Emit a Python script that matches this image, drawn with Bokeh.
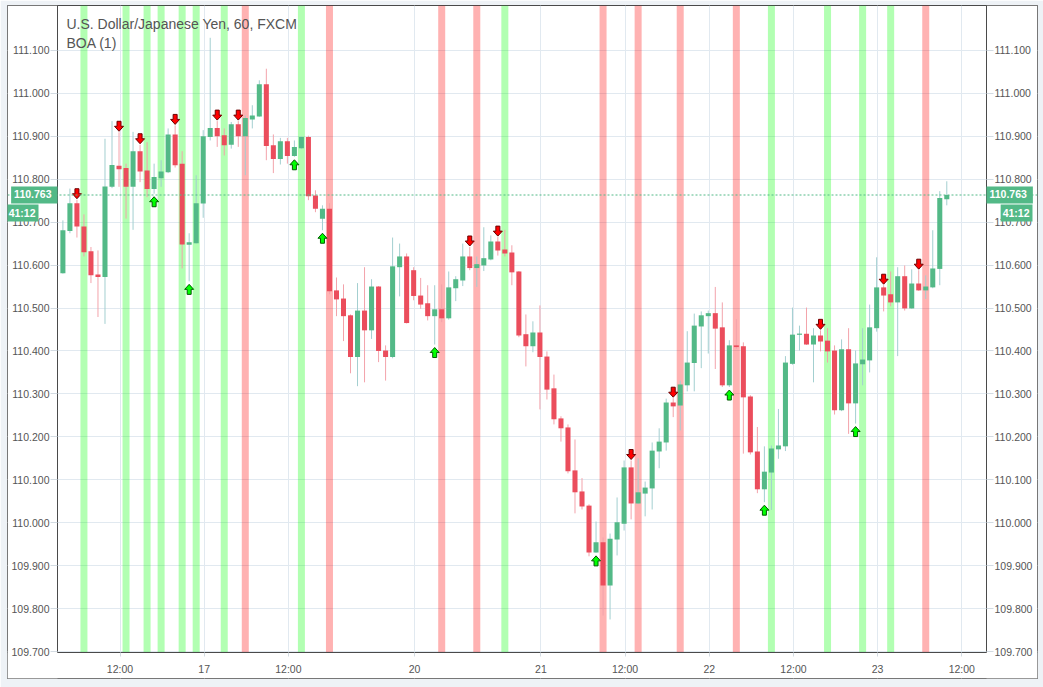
from bokeh.plotting import figure
from bokeh.models import (Range1d, LinearAxis, FixedTicker, PrintfTickFormatter,
                          Span, Label, BoxAnnotation, ColumnDataSource)
from bokeh.embed import file_html
from bokeh.resources import INLINE

# ---------------- data ----------------
title_text = "U.S. Dollar/Japanese Yen, 60, FXCM"
indicator_text = "BOA (1)"
countdown = "41:12"

opens = [110.581, 110.679, 110.744, 110.690, 110.632, 110.578, 110.572, 110.782, 110.831, 110.826,
         110.782, 110.865, 110.820, 110.777, 110.802, 110.816, 110.904, 110.836, 110.647, 110.651,
         110.743, 110.898, 110.919, 110.902, 110.880, 110.928, 110.900, 110.939, 110.946, 111.021,
         110.879, 110.847, 110.888, 110.854, 110.872, 110.898, 110.762, 110.708, 110.731, 110.541,
         110.522, 110.483, 110.386, 110.494, 110.448, 110.550, 110.401, 110.386, 110.595, 110.620,
         110.588, 110.529, 110.511, 110.481, 110.497, 110.476, 110.546, 110.564, 110.620, 110.593,
         110.599, 110.613, 110.655, 110.636, 110.629, 110.585, 110.439, 110.411, 110.443, 110.387,
         110.313, 110.243, 110.222, 110.122, 110.073, 110.040, 109.931, 109.955, 109.854, 109.961,
         109.998, 110.129, 110.045, 110.068, 110.080, 110.166, 110.187, 110.280, 110.273, 110.320,
         110.372, 110.457, 110.481, 110.488, 110.455, 110.320, 110.413, 110.411, 110.294, 110.166,
         110.078, 110.117, 110.171, 110.178, 110.370, 110.438, 110.440, 110.415, 110.436, 110.424,
         110.401, 110.262, 110.404, 110.278, 110.369, 110.378, 110.453, 110.548, 110.532, 110.513,
         110.574, 110.499, 110.557, 110.541, 110.548, 110.591, 110.753]
highs = [110.704, 110.778, 110.752, 110.718, 110.642, 110.634, 110.894, 110.935, 110.909, 110.836,
         110.910, 110.880, 110.886, 110.836, 110.844, 110.918, 110.925, 110.865, 110.674, 110.809,
         110.914, 111.129, 110.935, 110.918, 110.933, 110.935, 110.948, 110.972, 111.030, 111.057,
         110.904, 110.896, 110.896, 110.890, 110.900, 110.901, 110.774, 110.739, 110.744, 110.571,
         110.555, 110.485, 110.558, 110.595, 110.567, 110.551, 110.413, 110.664, 110.650, 110.627,
         110.595, 110.570, 110.553, 110.553, 110.555, 110.585, 110.574, 110.650, 110.642, 110.620,
         110.688, 110.669, 110.665, 110.682, 110.646, 110.586, 110.485, 110.469, 110.506, 110.399,
         110.345, 110.248, 110.229, 110.194, 110.104, 110.043, 110.003, 109.966, 109.975, 110.059,
         110.145, 110.145, 110.150, 110.096, 110.187, 110.220, 110.289, 110.290, 110.331, 110.446,
         110.487, 110.492, 110.494, 110.549, 110.513, 110.425, 110.474, 110.420, 110.297, 110.223,
         110.178, 110.180, 110.265, 110.388, 110.501, 110.459, 110.501, 110.453, 110.448, 110.453,
         110.413, 110.427, 110.453, 110.401, 110.453, 110.508, 110.618, 110.553, 110.585, 110.595,
         110.599, 110.590, 110.588, 110.576, 110.681, 110.772, 110.795]
lows = [110.580, 110.674, 110.664, 110.620, 110.558, 110.479, 110.463, 110.779, 110.782, 110.708,
        110.682, 110.793, 110.758, 110.766, 110.782, 110.814, 110.827, 110.592, 110.562, 110.650,
        110.710, 110.890, 110.875, 110.855, 110.871, 110.875, 110.809, 110.918, 110.945, 110.844,
        110.814, 110.834, 110.836, 110.852, 110.870, 110.751, 110.723, 110.681, 110.532, 110.481,
        110.423, 110.348, 110.318, 110.327, 110.428, 110.374, 110.331, 110.383, 110.527, 110.464,
        110.518, 110.498, 110.471, 110.415, 110.467, 110.473, 110.516, 110.551, 110.588, 110.549,
        110.586, 110.611, 110.622, 110.620, 110.553, 110.432, 110.364, 110.397, 110.264, 110.287,
        110.229, 110.189, 110.115, 110.022, 110.031, 109.922, 109.930, 109.784, 109.775, 109.924,
        109.982, 110.008, 110.044, 110.015, 110.031, 110.127, 110.168, 110.246, 110.215, 110.306,
        110.306, 110.360, 110.394, 110.358, 110.316, 110.316, 110.405, 110.161, 110.159, 110.069,
        110.048, 110.030, 110.149, 110.167, 110.368, 110.401, 110.414, 110.327, 110.399, 110.373,
        110.252, 110.260, 110.207, 110.231, 110.320, 110.350, 110.445, 110.492, 110.504, 110.388,
        110.494, 110.498, 110.540, 110.521, 110.546, 110.553, 110.739]
closes = [110.681, 110.744, 110.690, 110.630, 110.576, 110.572, 110.783, 110.833, 110.823, 110.782,
          110.865, 110.818, 110.777, 110.805, 110.818, 110.904, 110.832, 110.648, 110.653, 110.744,
          110.900, 110.919, 110.900, 110.879, 110.928, 110.900, 110.942, 110.948, 111.021, 110.877,
          110.847, 110.888, 110.854, 110.875, 110.898, 110.760, 110.731, 110.731, 110.539, 110.520,
          110.481, 110.386, 110.494, 110.448, 110.550, 110.400, 110.386, 110.597, 110.620, 110.465,
          110.528, 110.508, 110.481, 110.497, 110.476, 110.548, 110.567, 110.620, 110.593, 110.602,
          110.616, 110.655, 110.634, 110.627, 110.583, 110.436, 110.411, 110.443, 110.386, 110.310,
          110.241, 110.220, 110.120, 110.071, 110.038, 109.931, 109.955, 109.854, 109.963, 110.001,
          110.129, 110.045, 110.071, 110.082, 110.168, 110.189, 110.280, 110.271, 110.322, 110.373,
          110.459, 110.483, 110.488, 110.452, 110.320, 110.413, 110.409, 110.292, 110.164, 110.078,
          110.119, 110.173, 110.180, 110.373, 110.438, 110.440, 110.415, 110.436, 110.422, 110.399,
          110.262, 110.404, 110.278, 110.371, 110.380, 110.455, 110.548, 110.529, 110.513, 110.574,
          110.499, 110.557, 110.541, 110.550, 110.592, 110.756, 110.763]

sell_signals = [2, 8, 11, 16, 22, 25, 58, 62, 81, 87, 108, 117, 122]
buy_signals = [13, 18, 33, 37, 53, 76, 95, 100, 113]
green_bg = [3, 9, 12, 14, 17, 19, 23, 34, 63, 101, 109, 114, 118]
red_bg = [26, 38, 54, 59, 77, 82, 88, 96, 123]

x_tick_bars = [8, 20, 32, 50, 68, 80, 92, 104, 116, 128]
x_tick_labels = ["12:00", "17", "12:00", "20", "21", "12:00", "22", "12:00", "23", "12:00"]
y_ticks = [109.7, 109.8, 109.9, 110.0, 110.1, 110.2, 110.3, 110.4, 110.5, 110.6,
           110.7, 110.8, 110.9, 111.0, 111.1]

# ---------------- layout constants (page pixels) ----------------
W, H = 1043, 687
PANEL_L, PANEL_R, PANEL_T, PANEL_B = 7, 1037, 5, 678     # white chart panel
PLOT_L, PLOT_R, PLOT_B = 57, 986, 652                     # price pane inside the panel
PXB = 7.015          # pixels per bar
PXP = 429.6          # pixels per price unit
BAR0_PX = 62.4       # page x of the first bar
P110_PY = 522.3      # page y of price 110.000

X_START = (PANEL_L - BAR0_PX) / PXB
X_END = (PANEL_R - BAR0_PX) / PXB
Y_END = 110.0 + (P110_PY - PANEL_T) / PXP
Y_START = 110.0 - (PANEL_B - P110_PY) / PXP


def dx(page_px):
    return X_START + (page_px - PANEL_L) / PXB


def dy(page_py):
    return Y_END - (page_py - PANEL_T) / PXP


UP, DOWN = "#53b987", "#eb4d5c"
UP_WICK, DOWN_WICK = "#a3cfd0", "#f3a3ab"
TXT = "#555555"
FRAME = "#4a4a4a"
GRID = "#e1e9f0"
FONT = "Liberation Sans"

p = figure(width=W, height=H, output_backend="svg", toolbar_location=None,
           x_range=Range1d(X_START, X_END), y_range=Range1d(Y_START, Y_END),
           min_border_left=PANEL_L, min_border_right=W - PANEL_R,
           min_border_top=PANEL_T, min_border_bottom=H - PANEL_B,
           background_fill_color="white", border_fill_color="#eef2f6",
           outline_line_color=FRAME, outline_line_width=1)

# grid
p.xgrid.grid_line_color = GRID
p.ygrid.grid_line_color = GRID

# background signal bands
for i in green_bg:
    p.add_layout(BoxAnnotation(left=i - 0.5, right=i + 0.5, bottom=dy(PLOT_B),
                               fill_color="#00ff00", fill_alpha=0.3,
                               line_color=None, level="underlay"))
for i in red_bg:
    p.add_layout(BoxAnnotation(left=i - 0.5, right=i + 0.5, bottom=dy(PLOT_B),
                               fill_color="#ff0000", fill_alpha=0.3,
                               line_color=None, level="underlay"))

# white masks: keep grid lines inside the price pane only
for kw in (dict(right=dx(PLOT_L)), dict(left=dx(PLOT_R)), dict(top=dy(PLOT_B))):
    p.add_layout(BoxAnnotation(fill_color="white", fill_alpha=1.0, line_color=None,
                               level="underlay", **kw))

# candles
n = len(opens)
idx = list(range(n))
min_h = 1.2 / PXP
tops, bots, body_col, wick_col = [], [], [], []
for o, c in zip(opens, closes):
    t, b = max(o, c), min(o, c)
    if t - b < min_h:
        m = (t + b) / 2
        t, b = m + min_h / 2, m - min_h / 2
    tops.append(t)
    bots.append(b)
    up = c >= o
    body_col.append(UP if up else DOWN)
    wick_col.append(UP_WICK if up else DOWN_WICK)

src = ColumnDataSource(dict(x=idx, o=opens, h=highs, l=lows, c=closes,
                            top=tops, bottom=bots, bc=body_col, wc=wick_col))
p.segment(x0="x", y0="h", x1="x", y1="l", source=src, line_color="wc", line_width=1)
p.vbar(x="x", top="top", bottom="bottom", width=0.72, source=src,
       fill_color="bc", line_color=None)

# current price line
last_price = closes[-1]
p.add_layout(Span(location=last_price, dimension="width", line_color=UP,
                  line_dash="2 2", line_width=1))


# signal arrows
def arrow(i, down):
    if down:
        tip = highs[i] + 1.0 / PXP
        s = 1
    else:
        tip = lows[i] - 3.0 / PXP
        s = -1
    pts = [(0, 0), (-4.5, 5), (-2, 5), (-2, 10), (2, 10), (2, 5), (4.5, 5)]
    xs = [i + ox / PXB for ox, oy in pts]
    ys = [tip + s * oy / PXP for ox, oy in pts]
    return xs, ys


sx, sy = zip(*[arrow(i, True) for i in sell_signals])
p.patches(xs=list(sx), ys=list(sy), fill_color="#ff0000", line_color="#6e0000", line_width=1)
bx, by = zip(*[arrow(i, False) for i in buy_signals])
p.patches(xs=list(bx), ys=list(by), fill_color="#00ff00", line_color="#005c00", line_width=1)

# axes (pinned to the price pane edges)
fmt = PrintfTickFormatter(format="%.3f")
yl = p.yaxis[0]
yl.ticker = FixedTicker(ticks=y_ticks)
yl.formatter = fmt
yl.fixed_location = dx(PLOT_L)
right = LinearAxis(ticker=FixedTicker(ticks=y_ticks), formatter=fmt,
                   fixed_location=dx(PLOT_R))
p.add_layout(right, "right")
for ax in (yl, right):
    ax.bounds = (dy(PLOT_B), Y_END)
    ax.axis_line_color = FRAME
    ax.major_tick_in = 0
    ax.major_tick_out = 7
    ax.major_tick_line_color = "#d3dbe2"
    ax.minor_tick_line_color = None
    ax.major_label_text_font = FONT
    ax.major_label_text_font_size = "10.5px"
    ax.major_label_text_color = TXT
    ax.major_label_standoff = 1

xt = [b + 0.14 for b in x_tick_bars]
xa = p.xaxis[0]
xa.ticker = FixedTicker(ticks=xt)
xa.major_label_overrides = {t: lab for t, lab in zip(xt, x_tick_labels)}
xa.fixed_location = dy(PLOT_B)
xa.bounds = (dx(PLOT_L), dx(PLOT_R))
xa.axis_line_color = FRAME
xa.major_tick_in = 0
xa.major_tick_out = 4
xa.major_tick_line_color = "#d3dbe2"
xa.minor_tick_line_color = None
xa.major_label_text_font = FONT
xa.major_label_text_font_size = "10.5px"
xa.major_label_text_color = TXT
xa.major_label_standoff = 6

# titles
p.add_layout(Label(x=dx(66), y=dy(23), text=title_text, text_baseline="middle",
                   text_font=FONT, text_font_size="14px", text_color=TXT))
p.add_layout(Label(x=dx(66), y=dy(42), text=indicator_text, text_baseline="middle",
                   text_font=FONT, text_font_size="14px", text_color=TXT))

# price / countdown tags
price_str = "%.3f" % last_price
tag = dict(text_font=FONT, text_font_size="10.5px", text_font_style="bold", text_color="white",
           background_fill_color=UP, text_baseline="middle", padding=(3, 6, 3, 6))
tag_small = dict(tag, padding=(2, 3, 2, 3))
p.add_layout(Label(x=dx(PLOT_L), y=last_price, text=price_str, text_align="right",
                   anchor="center_right", **tag))
p.add_layout(Label(x=dx(38), y=dy(212.5), text=countdown, text_align="right",
                   anchor="center_right", **tag_small))
p.add_layout(Label(x=dx(PLOT_R), y=last_price, text=price_str, text_align="left",
                   anchor="center_left", **tag))
p.add_layout(Label(x=dx(1032), y=dy(212.5), text=countdown, text_align="right",
                   anchor="center_right", **tag_small))

open("out.html", "w").write(file_html(p, INLINE))
